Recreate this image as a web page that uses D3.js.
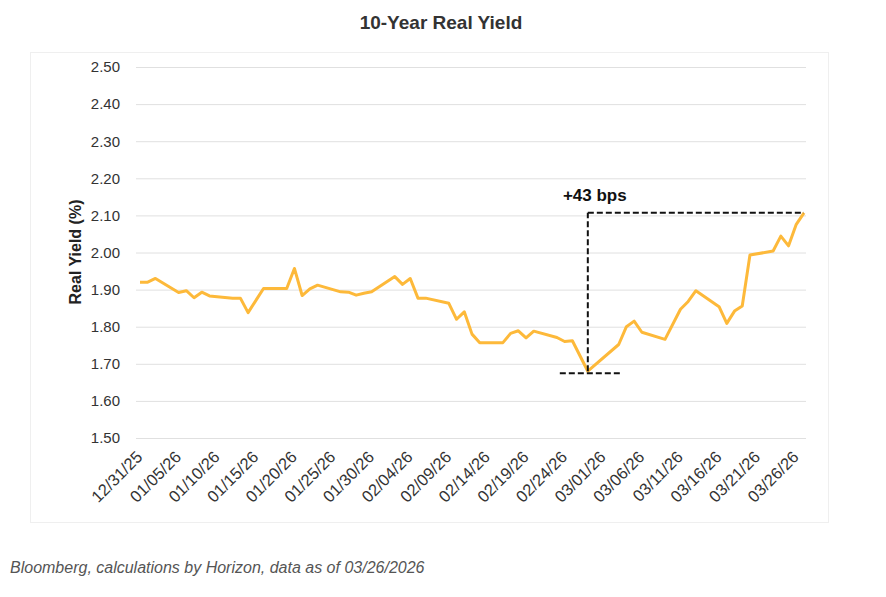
<!DOCTYPE html>
<html>
<head>
<meta charset="utf-8">
<script src="https://cdn.jsdelivr.net/npm/d3@7"></script>
<style>
  body { margin: 0; background: #fff; }
  svg { font-family: "Liberation Sans", Arial, Helvetica, sans-serif; }
</style>
</head>
<body>
<div id="chart"></div>
<script>
// 10-year real yield, daily closes
var dates = [
  "12/31/25", "01/01/26", "01/02/26", "01/05/26", "01/06/26", "01/07/26", "01/08/26", "01/09/26",
  "01/12/26", "01/13/26", "01/14/26", "01/16/26", "01/19/26", "01/20/26", "01/21/26", "01/22/26",
  "01/23/26", "01/26/26", "01/27/26", "01/28/26", "01/29/26", "01/30/26", "02/02/26", "02/03/26",
  "02/04/26", "02/05/26", "02/06/26", "02/09/26", "02/10/26", "02/11/26", "02/12/26", "02/13/26",
  "02/16/26", "02/17/26", "02/18/26", "02/19/26", "02/20/26", "02/23/26", "02/24/26", "02/25/26",
  "02/27/26", "03/03/26", "03/04/26", "03/05/26", "03/06/26", "03/09/26", "03/11/26", "03/12/26",
  "03/13/26", "03/16/26", "03/17/26", "03/18/26", "03/19/26", "03/20/26", "03/23/26", "03/24/26",
  "03/25/26", "03/26/26", "03/27/26"
];
var yields = [
  1.920, 1.920, 1.930, 1.892, 1.897, 1.878, 1.893, 1.883,
  1.877, 1.877, 1.838, 1.903, 1.903, 1.957, 1.884, 1.902,
  1.912, 1.894, 1.893, 1.885, 1.890, 1.894, 1.935, 1.914,
  1.930, 1.877, 1.877, 1.863, 1.820, 1.840, 1.780, 1.757,
  1.757, 1.782, 1.789, 1.770, 1.788, 1.771, 1.760, 1.762,
  1.680, 1.752, 1.800, 1.815, 1.785, 1.766, 1.847, 1.868,
  1.897, 1.854, 1.809, 1.842, 1.856, 1.993, 2.004, 2.044,
  2.018, 2.076, 2.107
];
var tickLabels = [
  "12/31/25", "01/05/26", "01/10/26", "01/15/26", "01/20/26", "01/25/26", "01/30/26", "02/04/26", "02/09/26",
  "02/14/26", "02/19/26", "02/24/26", "03/01/26", "03/06/26", "03/11/26", "03/16/26", "03/21/26", "03/26/26"
];
var yTicks = [1.5, 1.6, 1.7, 1.8, 1.9, 2.0, 2.1, 2.2, 2.3, 2.4, 2.5];

var width = 886, height = 597;
var parse = d3.utcParse("%m/%d/%y");
var fmt = d3.utcFormat("%m/%d/%y");

var data = dates.map(function(d, i) { return {date: parse(d), value: yields[i]}; });

var x = d3.scaleUtc()
  .domain(d3.extent(data, function(d) { return d.date; }))
  .range([140, 804]);
var y = d3.scaleLinear().domain([1.5, 2.5]).range([438, 67]);

var svg = d3.select("#chart").append("svg")
  .attr("width", width)
  .attr("height", height);

// faint chart-area frame
svg.append("rect")
  .attr("x", 30.5).attr("y", 52.5)
  .attr("width", 798).attr("height", 470)
  .attr("fill", "none")
  .attr("stroke", "#efefef");

svg.append("text")
  .attr("x", 441).attr("y", 29)
  .attr("text-anchor", "middle")
  .attr("font-size", 19).attr("font-weight", "bold")
  .attr("fill", "#333")
  .text("10-Year Real Yield");

// y axis + gridlines
var gY = svg.append("g")
  .attr("transform", "translate(136,0)")
  .call(d3.axisLeft(y).tickValues(yTicks).tickSize(-670).tickPadding(16).tickFormat(d3.format(".2f")));
gY.select(".domain").remove();
gY.selectAll(".tick line").attr("stroke", "#e0e0e0");
gY.selectAll(".tick text").attr("font-size", 15).attr("fill", "#333");

svg.append("text")
  .attr("transform", "translate(81,252) rotate(-90)")
  .attr("text-anchor", "middle")
  .attr("font-size", 16).attr("font-weight", "bold")
  .attr("fill", "#222")
  .text("Real Yield (%)");

// x axis
var gX = svg.append("g")
  .attr("transform", "translate(0,438)")
  .call(d3.axisBottom(x).tickValues(tickLabels.map(parse)).tickSize(0).tickFormat(fmt));
gX.select(".domain").remove();
gX.selectAll(".tick text")
  .attr("y", 0).attr("dy", "0.35em")
  .attr("transform", "translate(-1,16) rotate(-45)")
  .attr("text-anchor", "end")
  .attr("font-size", 16.5).attr("fill", "#333");

// line
var line = d3.line()
  .x(function(d) { return x(d.date); })
  .y(function(d) { return y(d.value); });

svg.append("path")
  .datum(data)
  .attr("d", line)
  .attr("fill", "none")
  .attr("stroke", "#fdb93a")
  .attr("stroke-width", 3)
  .attr("stroke-linejoin", "round");

// low-to-latest annotation
var low = data.reduce(function(a, b) { return b.value < a.value ? b : a; });
var last = data[data.length - 1];
var ann = svg.append("g")
  .attr("fill", "none")
  .attr("stroke", "#111")
  .attr("stroke-width", 2)
  .attr("stroke-dasharray", "6,3");
ann.append("line")
  .attr("x1", x(low.date) - 28).attr("x2", x(low.date) + 32)
  .attr("y1", y(low.value) + 2).attr("y2", y(low.value) + 2);
ann.append("line")
  .attr("x1", x(low.date)).attr("x2", x(low.date))
  .attr("y1", y(low.value)).attr("y2", y(last.value));
ann.append("line")
  .attr("x1", x(low.date)).attr("x2", x(last.date))
  .attr("y1", y(last.value)).attr("y2", y(last.value));

svg.append("text")
  .attr("x", x(low.date) + 7).attr("y", y(last.value) - 12)
  .attr("text-anchor", "middle")
  .attr("font-size", 17).attr("font-weight", "bold")
  .attr("fill", "#111")
  .text("+" + Math.round((last.value - low.value) * 100) + " bps");

svg.append("text")
  .attr("x", 10).attr("y", 573)
  .attr("font-size", 16).attr("font-style", "italic")
  .attr("fill", "#555")
  .text("Bloomberg, calculations by Horizon, data as of 03/26/2026");
</script>
</body>
</html>
